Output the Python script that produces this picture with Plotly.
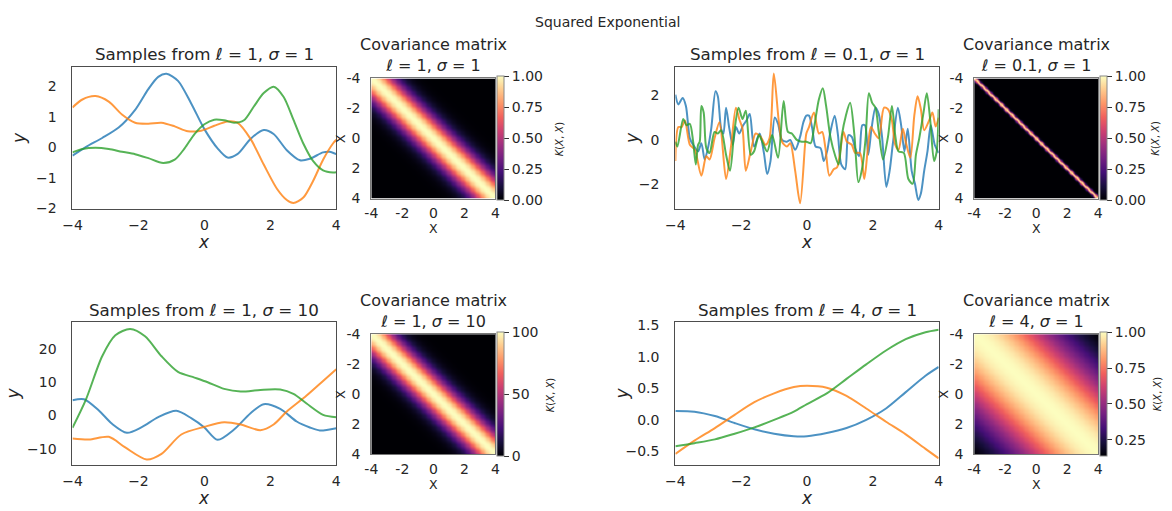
import numpy as np
import plotly.graph_objects as go

# ---------------- data ----------------
# Panel A: l=1, sigma=1
a_blue_x = [-4, -3.6, -3.1, -2.6, -2.1, -1.7, -1.4, -1.15, -0.8, -0.4, 0, 0.4, 0.7, 1.0, 1.4, 1.8, 2.1, 2.5, 2.9, 3.2, 3.6, 3.8, 4.0]
a_blue_y = [-0.28, 0.0, 0.3, 0.64, 1.22, 1.9, 2.3, 2.4, 2.17, 1.43, 0.59, -0.04, -0.34, -0.23, 0.27, 0.56, 0.43, -0.1, -0.43, -0.38, -0.17, -0.15, -0.23]
a_orange_x = [-4, -3.7, -3.3, -2.9, -2.5, -2.1, -1.7, -1.3, -0.9, -0.5, -0.1, 0.3, 0.7, 1.0, 1.4, 1.8, 2.2, 2.5, 2.7, 3.0, 3.3, 3.6, 3.9, 4.0]
a_orange_y = [1.3, 1.56, 1.67, 1.49, 1.07, 0.8, 0.77, 0.8, 0.68, 0.52, 0.54, 0.7, 0.84, 0.8, 0.27, -0.57, -1.36, -1.73, -1.83, -1.65, -1.1, -0.41, 0.12, 0.24]
a_green_x = [-4, -3.7, -3.3, -2.9, -2.5, -2.1, -1.7, -1.25, -0.9, -0.6, -0.3, 0, 0.3, 0.6, 0.9, 1.2, 1.5, 1.8, 2.1, 2.4, 2.7, 3.0, 3.3, 3.6, 3.9, 4.0]
a_green_y = [-0.17, -0.06, -0.02, -0.06, -0.15, -0.23, -0.36, -0.52, -0.41, -0.04, 0.43, 0.75, 0.9, 0.88, 0.8, 0.88, 1.33, 1.77, 1.98, 1.65, 0.9, 0.12, -0.46, -0.76, -0.83, -0.82]

# Panel B: l=0.1, sigma=1
b_blue_x = [-4.00, -3.91, -3.78, -3.68, -3.56, -3.46, -3.31, -3.21, -3.11, -3.01, -2.91, -2.78, -2.71, -2.61, -2.54, -2.46, -2.36, -2.26, -2.16, -2.06,
            -1.94, -1.84, -1.74, -1.61, -1.44, -1.31, -1.21, -1.11, -0.98, -0.88, -0.76, -0.61, -0.51, -0.36, -0.21, -0.11, -0.02, 0.06, 0.16, 0.26,
            0.41, 0.51, 0.61, 0.71, 0.84, 0.94, 1.04, 1.16, 1.26, 1.36, 1.46, 1.58, 1.68, 1.76, 1.86, 1.96, 2.08, 2.18, 2.28, 2.41,
            2.51, 2.61, 2.76, 2.86, 2.96, 3.06, 3.18, 3.28, 3.38, 3.46, 3.56, 3.66, 3.76, 3.88, 4.00]
b_blue_y = [2.04, 1.60, 1.89, 1.53, 0.06, -0.23, -0.53, -0.16, -0.90, -0.38, 0.50, 2.19, 1.97, 0.50, 0.28, 1.45, 0.50, -0.23, 0.57, 0.28,
            0.65, 0.87, 1.16, -0.31, 0.28, -0.60, -1.56, -0.97, 1.01, 0.72, -0.01, -0.09, -0.01, -0.46, 0.13, 0.79, 1.09, 1.09, 0.50, -0.31,
            -0.38, -0.97, -0.53, 0.35, 1.09, 0.21, -1.12, -1.34, 0.21, 0.13, -0.38, -0.75, 0.65, 0.65, -0.68, 0.50, 1.45, 1.16, 0.13, -2.14,
            -1.41, -0.16, 1.45, 0.65, -0.53, 0.50, -1.41, -2.00, -2.73, -2.44, -1.41, -0.53, 0.65, -0.23, -0.60]
b_orange_x = [-4.00, -3.91, -3.81, -3.71, -3.56, -3.41, -3.21, -3.06, -2.96, -2.81, -2.66, -2.46, -2.31, -2.16, -2.06, -1.96, -1.86, -1.71, -1.56, -1.41,
              -1.26, -1.14, -1.01, -0.86, -0.76, -0.61, -0.51, -0.36, -0.21, -0.06, -0.02, 0.06, 0.21, 0.36, 0.46, 0.56, 0.68, 0.81, 0.91, 1.01,
              1.11, 1.21, 1.36, 1.46, 1.61, 1.74, 1.84, 1.94, 2.06, 2.18, 2.34, 2.46, 2.58, 2.68, 2.78, 2.91, 3.01, 3.14, 3.26, 3.36,
              3.46, 3.56, 3.71, 3.81, 3.91, 4.00]
b_orange_y = [-0.97, 0.57, 0.57, 0.87, -0.23, -0.46, -1.63, -0.75, -0.90, 0.06, 0.79, -1.78, -0.31, 1.45, 0.94, 0.50, -1.41, -0.53, 0.28, 0.13,
              -0.23, 0.06, 3.00, 0.87, -0.09, -0.31, -0.16, -1.41, -2.88, -0.23, 0.28, 0.57, 1.23, 0.28, 0.35, -0.38, -1.63, -1.34, -1.26, -0.53,
              0.35, -0.09, -0.23, -0.60, -0.60, -1.78, -0.53, 0.57, 0.28, 0.06, 1.45, 1.38, 0.87, -0.23, -0.46, 0.50, -0.16, -0.82, 1.09, 1.97,
              1.38, 0.43, 0.87, 1.23, 0.60, 1.00]
b_green_x = [-4.00, -3.94, -3.76, -3.66, -3.56, -3.46, -3.38, -3.31, -3.26, -3.21, -3.14, -3.06, -2.96, -2.81, -2.71, -2.61, -2.46, -2.34, -2.21, -2.08,
             -1.96, -1.86, -1.71, -1.61, -1.46, -1.36, -1.21, -1.06, -0.88, -0.71, -0.58, -0.46, -0.31, -0.16, -0.02, 0.11, 0.21, 0.36, 0.48, 0.58,
             0.71, 0.86, 0.96, 1.06, 1.18, 1.31, 1.44, 1.56, 1.68, 1.78, 1.88, 1.98, 2.08, 2.18, 2.31, 2.46, 2.58, 2.68, 2.78, 2.94,
             3.08, 3.21, 3.31, 3.41, 3.54, 3.64, 3.74, 3.86, 3.94, 4.00]
b_green_y = [-0.09, -0.31, 0.94, 0.65, 0.72, -0.09, -1.12, -0.23, -0.09, 1.53, 1.23, -0.38, -0.60, 0.35, 0.28, 0.43, -0.68, -1.41, 0.35, 1.45,
             0.94, 1.31, -0.68, -0.53, 0.21, -0.09, -0.53, 0.21, -0.82, 1.75, 0.35, 0.28, -0.01, -0.09, -0.09, -0.16, 0.50, 1.82, 2.33, 1.53,
             0.13, -0.75, -1.12, 0.21, 1.09, 1.67, 0.21, -1.92, -1.26, 0.06, 2.11, 1.67, 1.45, 0.35, -0.90, 0.13, 1.53, 0.21, -0.53, -0.60,
             -1.78, -2.00, -0.68, 0.06, 1.23, 2.11, 0.94, -0.97, -0.53, 1.38]

# Panel C: l=1, sigma=10
c_blue_x = [-4, -3.65, -3.2, -2.8, -2.35, -1.9, -1.4, -0.85, -0.4, 0, 0.4, 0.9, 1.4, 1.8, 2.3, 2.8, 3.2, 3.5, 4.0]
c_blue_y = [4.6, 4.9, 1.5, -2.5, -5.2, -3.5, -0.5, 1.4, -0.8, -3.6, -7.3, -4.2, 0.7, 3.4, 2.0, -1.8, -3.6, -4.5, -3.8]
c_orange_x = [-4, -3.5, -2.9, -2.4, -1.75, -1.3, -0.7, 0, 0.6, 1.1, 1.7, 2.1, 2.5, 3.1, 3.6, 4.0]
c_orange_y = [-6.9, -7.2, -6.4, -9.6, -13.2, -11.5, -5.7, -3.4, -2.0, -2.7, -4.4, -2.7, 1.2, 6.0, 10.4, 13.9]
c_green_x = [-4, -3.6, -3.1, -2.7, -2.25, -1.8, -1.3, -0.8, -0.3, 0.1, 0.6, 1.1, 1.7, 2.3, 2.7, 3.1, 3.6, 4.0]
c_green_y = [-3.7, 4.6, 17.8, 24.1, 26.0, 23.8, 17.8, 13.1, 11.4, 10.0, 8.0, 7.2, 7.7, 7.8, 6.5, 3.6, 0.2, -0.5]

# Panel D: l=4, sigma=1
d_x = [-4, -3.42, -2.8, -2.2, -1.6, -1.0, -0.4, 0, 0.6, 1.2, 1.8, 2.4, 3.0, 3.6, 4.0]
d_blue_y = [0.14, 0.13, 0.06, -0.05, -0.15, -0.22, -0.26, -0.26, -0.21, -0.13, 0.0, 0.18, 0.44, 0.7, 0.84]
d_orange_y = [-0.54, -0.33, -0.13, 0.08, 0.28, 0.42, 0.52, 0.54, 0.51, 0.38, 0.18, -0.03, -0.23, -0.46, -0.61]
d_green_y = [-0.42, -0.37, -0.31, -0.22, -0.12, 0.0, 0.13, 0.25, 0.42, 0.65, 0.88, 1.1, 1.28, 1.39, 1.43]

# kernel parameters of the four panels
lengthscales = [1, 0.1, 1, 4]
sigmas = [1, 1, 10, 1]
line_titles = ["Samples from <i>ℓ</i> = 1, <i>σ</i> = 1", "Samples from <i>ℓ</i> = 0.1, <i>σ</i> = 1",
               "Samples from <i>ℓ</i> = 1, <i>σ</i> = 10", "Samples from <i>ℓ</i> = 4, <i>σ</i> = 1"]
heat_titles = ["<i>ℓ</i> = 1, <i>σ</i> = 1", "<i>ℓ</i> = 0.1, <i>σ</i> = 1",
               "<i>ℓ</i> = 1, <i>σ</i> = 10", "<i>ℓ</i> = 4, <i>σ</i> = 1"]
y_ranges = [[-2.03, 2.62], [-3.15, 3.29], [-14.85, 28.06], [-0.715, 1.55]]
y_tickvals = [[-2, -1, 0, 1, 2], [-2, 0, 2], [-10, 0, 10, 20], [-0.5, 0.0, 0.5, 1.0, 1.5]]
y_ticktext = [["−2", "−1", "0", "1", "2"], ["−2", "0", "2"], ["−10", "0", "10", "20"], ["−0.5", "0.0", "0.5", "1.0", "1.5"]]
x_ticks = [-4, -2, 0, 2, 4]
cb_tickvals = [[0, 0.25, 0.5, 0.75, 1.0], [0, 0.25, 0.5, 0.75, 1.0], [0, 50, 100], [0.25, 0.5, 0.75, 1.0]]
cb_ticktext = [["0.00", "0.25", "0.50", "0.75", "1.00"], ["0.00", "0.25", "0.50", "0.75", "1.00"],
               ["0", "50", "100"], ["0.25", "0.50", "0.75", "1.00"]]

series = [
    [(a_blue_x, a_blue_y), (a_orange_x, a_orange_y), (a_green_x, a_green_y)],
    [(b_blue_x, b_blue_y), (b_orange_x, b_orange_y), (b_green_x, b_green_y)],
    [(c_blue_x, c_blue_y), (c_orange_x, c_orange_y), (c_green_x, c_green_y)],
    [(d_x, d_blue_y), (d_x, d_orange_y), (d_x, d_green_y)],
]
colors = ["rgba(31,119,180,0.8)", "rgba(255,127,14,0.8)", "rgba(44,160,44,0.8)"]

# ---------------- layout geometry (pixels) ----------------
W, H = 1172, 511
FONT = "DejaVu Sans"
TXT = "#262626"
TICK = 14
TITLE = 16.7
line_boxes = [(63.3, 330.5, 61, 207.7), (674, 940.7, 61, 207.7),
              (63.3, 330.5, 324.3, 471.7), (674, 940.7, 324.3, 471.7)]
heat_boxes = [(366, 491.7, 72.7, 196.7), (976.7, 1102.3, 72.7, 196.7),
              (366, 491.7, 336.7, 460.7), (976.7, 1102.3, 336.7, 460.7)]
line_title_y = [47, 47, 312, 312]
heat_title_y = [49, 49, 313, 313]
ylabel_x = [9, 630, 3, 619]
cbtitle_x = [557, 1160, 547, 1162]


def px(xp):
    return xp / W


def py(yp):
    return 1 - yp / H


fig = go.Figure()
layout = dict(width=W, height=H, margin=dict(l=0, r=0, t=0, b=0),
              paper_bgcolor="white", plot_bgcolor="white", showlegend=False,
              font=dict(family=FONT, color=TXT, size=13))
annotations = []

grid = np.linspace(-4, 4, 100)


def ann(text, x, y, size, angle=0):
    annotations.append(dict(text=text, x=px(x), y=py(y), xref="paper", yref="paper", showarrow=False,
                            textangle=angle, font=dict(size=size, family=FONT, color=TXT),
                            xanchor="center", yanchor="middle", align="center"))


for i in range(4):
    li = 2 * i + 1
    hi = 2 * i + 2
    xl, xr, yt, yb = line_boxes[i]
    for (sx, sy), c in zip(series[i], colors):
        fig.add_trace(go.Scatter(x=sx, y=sy, mode="lines", line=dict(color=c, width=2, shape="spline", smoothing=0.8),
                                 xaxis=f"x{li}", yaxis=f"y{li}", hoverinfo="skip"))
    common = dict(showline=True, mirror=True, linecolor="#4d4d4d", linewidth=1.2, showgrid=False, zeroline=False,
                  ticks="outside", tickcolor="rgba(0,0,0,0)", tickfont=dict(size=TICK, family=FONT, color=TXT))
    layout[f"xaxis{li}"] = dict(domain=[px(xl), px(xr)], range=[-4, 4], anchor=f"y{li}",
                                tickvals=x_ticks, ticktext=["−4", "−2", "0", "2", "4"], ticklen=3, **common)
    layout[f"yaxis{li}"] = dict(domain=[py(yb), py(yt)], range=y_ranges[i], anchor=f"x{li}",
                                tickvals=y_tickvals[i], ticktext=y_ticktext[i], ticklen=12, **common)
    cx = (xl + xr) / 2
    ann(line_titles[i], cx, line_title_y[i], TITLE)
    ann("<i>x</i>", cx, yb + 34, 17)
    ann("<i>y</i>", ylabel_x[i], (yt + yb) / 2, 17, -90)

    # covariance heatmap
    hl, hr, ht, hb = heat_boxes[i]
    ell, sig = lengthscales[i], sigmas[i]
    K = sig ** 2 * np.exp(-(grid[:, None] - grid[None, :]) ** 2 / (2 * ell ** 2))
    fig.add_trace(go.Heatmap(z=K, x=grid, y=grid, colorscale="Magma", zmin=float(K.min()), zmax=float(K.max()),
                             zsmooth="best", xaxis=f"x{hi}", yaxis=f"y{hi}", hoverinfo="skip",
                             colorbar=dict(x=px(hr + 1.5), xanchor="left", xpad=0, y=py((ht + hb) / 2), yanchor="middle",
                                           ypad=0, len=hb - ht, lenmode="pixels", thickness=6.5, thicknessmode="pixels",
                                           outlinewidth=1, outlinecolor="#888", ticks="outside", ticklen=5, tickwidth=1,
                                           tickcolor="#333", tickvals=cb_tickvals[i], ticktext=cb_ticktext[i],
                                           tickfont=dict(size=TICK, family=FONT, color=TXT))))
    hcommon = dict(showline=True, mirror=True, linecolor="#777", linewidth=1, showgrid=False, zeroline=False,
                   ticks="outside", tickcolor="rgba(0,0,0,0)", tickvals=x_ticks, ticktext=["-4", "-2", "0", "2", "4"],
                   tickfont=dict(size=TICK, family=FONT, color=TXT))
    layout[f"xaxis{hi}"] = dict(domain=[px(hl), px(hr)], range=[-4, 4], anchor=f"y{hi}", ticklen=2, **hcommon)
    layout[f"yaxis{hi}"] = dict(domain=[py(hb), py(ht)], range=[4, -4], anchor=f"x{hi}", ticklen=7, **hcommon)
    hcx = (hl + hr) / 2
    ann("Covariance matrix<br>" + heat_titles[i], hcx, heat_title_y[i], 16)
    ann("X", hcx, hb + 31, 12.5)
    ann("X", hl - 31, (ht + hb) / 2, 13, -90)
    ann("<i>K</i>(<i>X</i>, <i>X</i>)", cbtitle_x[i], (ht + hb) / 2, 10, -90)

ann("Squared Exponential", 605, 14, 14)
layout["annotations"] = annotations
fig.update_layout(**layout)
fig.write_html("out.html")
